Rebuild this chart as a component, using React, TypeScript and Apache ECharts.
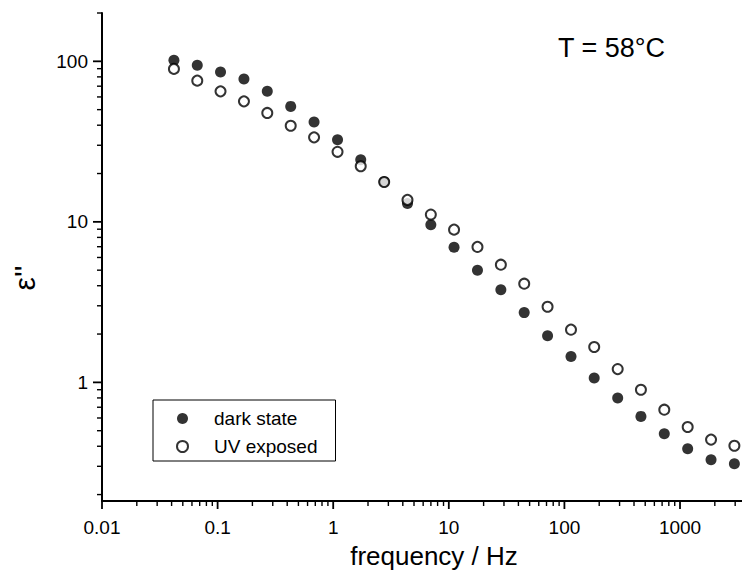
import React, { useEffect, useRef } from "react";
import * as echarts from "echarts";

// frequency (Hz) of each measured point
const frequency = [0.0419, 0.0667, 0.106, 0.169, 0.269, 0.429, 0.683, 1.09, 1.73, 2.76, 4.39, 6.99, 11.1, 17.7, 28.2, 44.9, 71.5, 114, 181, 289, 459, 731, 1165, 1855, 2953];
// epsilon'' values
const darkState = [101.4, 94.4, 85.9, 77.7, 65.0, 52.4, 41.9, 32.5, 24.4, 17.8, 13.0, 9.6, 6.94, 4.99, 3.78, 2.72, 1.95, 1.45, 1.065, 0.8, 0.614, 0.479, 0.386, 0.33, 0.311];
const uvExposed = [89.7, 75.8, 65.0, 56.3, 47.7, 39.7, 33.6, 27.3, 22.2, 17.7, 13.7, 11.1, 8.94, 6.98, 5.41, 4.12, 2.96, 2.13, 1.66, 1.21, 0.9, 0.676, 0.527, 0.44, 0.403];

const xTicks = [0.01, 0.1, 1, 10, 100, 1000];
const xTickLabels = ["0.01", "0.1", "1", "10", "100", "1000"];
const yTicks = [1, 10, 100];
const yTickLabels = ["1", "10", "100"];

const X_MIN = 0.01;
const X_MAX = 3437;
const Y_MIN = 0.1824;
const Y_MAX = 200;

function minorTicks(lo: number, hi: number, fromExp: number, toExp: number) {
  const out: number[] = [];
  for (let e = fromExp; e <= toExp; e++) {
    for (let k = 2; k <= 9; k++) {
      const v = parseFloat((k * Math.pow(10, e)).toPrecision(6));
      if (v >= lo && v <= hi * 1.0001) out.push(v);
    }
  }
  return out;
}

const FONT = "'Liberation Sans', Arial, Helvetica, sans-serif";

function tickMarks(name: string, values: number[], dir: "x" | "y", len: number, width: number) {
  return {
    name,
    type: "scatter",
    silent: true,
    clip: false,
    z: 6,
    symbol: "rect",
    symbolSize: dir === "x" ? [width, len] : [len, width],
    symbolOffset: dir === "x" ? [0, len / 2] : [-len / 2, 0],
    itemStyle: { color: "#000", opacity: 1 },
    emphasis: { disabled: true },
    tooltip: { show: false },
    data: values.map((v) => (dir === "x" ? [v, Y_MIN] : [X_MIN, v])),
  };
}

export default function App() {
  const ref = useRef<HTMLDivElement>(null);
  useEffect(() => {
    if (!ref.current) return;
    const chart = echarts.init(ref.current, undefined, { renderer: "svg" });
    const xMinor = minorTicks(X_MIN, X_MAX, -2, 3);
    const yMinor = minorTicks(Y_MIN, Y_MAX, -1, 2);
    const fmtX = (v: number) => {
      const i = xTicks.findIndex((t) => Math.abs(Math.log10(t) - Math.log10(v)) < 1e-6);
      return i >= 0 ? xTickLabels[i] : "";
    };
    const fmtY = (v: number) => {
      const i = yTicks.findIndex((t) => Math.abs(Math.log10(t) - Math.log10(v)) < 1e-6);
      return i >= 0 ? yTickLabels[i] : "";
    };
    const axisLineStyle = { color: "#000", width: 2 };
    chart.setOption({
      animation: false,
      backgroundColor: "#fff",
      textStyle: { fontFamily: FONT },
      grid: { left: 102, right: 0, top: 13, bottom: 72, containLabel: false },
      xAxis: {
        type: "log",
        min: X_MIN,
        max: X_MAX,
        position: "bottom",
        axisLine: { show: true, onZero: false, lineStyle: axisLineStyle },
        axisTick: { show: false },
        axisLabel: {
          show: true,
          customValues: xTicks,
          formatter: fmtX,
          color: "#000",
          fontSize: 19,
          fontFamily: FONT,
          margin: 17,
        },
        splitLine: { show: false },
        minorTick: { show: false },
      },
      yAxis: {
        type: "log",
        min: Y_MIN,
        max: Y_MAX,
        position: "left",
        axisLine: { show: true, onZero: false, lineStyle: axisLineStyle },
        axisTick: { show: false },
        axisLabel: {
          show: true,
          customValues: yTicks,
          formatter: fmtY,
          color: "#000",
          fontSize: 19,
          fontFamily: FONT,
          margin: 14,
        },
        splitLine: { show: false },
        minorTick: { show: false },
      },
      legend: {
        show: true,
        orient: "vertical",
        left: 153,
        top: 400,
        itemWidth: 11,
        itemHeight: 11,
        itemGap: 9,
        padding: [9, 18, 5, 23],
        borderColor: "#000",
        borderWidth: 1,
        backgroundColor: "#fff",
        textStyle: { color: "#000", fontSize: 19, fontFamily: FONT, lineHeight: 19, padding: [0, 0, 0, 21] },
        data: ["dark state", "UV exposed"],
      },
      series: [
        tickMarks("x major ticks", xTicks, "x", 8, 1.8),
        tickMarks("x minor ticks", xMinor, "x", 5, 1.4),
        tickMarks("y major ticks", yTicks, "y", 9, 1.8),
        tickMarks("y minor ticks", yMinor, "y", 5, 1.4),
        {
          name: "dark state",
          type: "scatter",
          symbol: "circle",
          symbolSize: 11,
          itemStyle: { color: "#000", borderColor: "#000", borderWidth: 0 },
          data: frequency.map((f, i) => [f, darkState[i]]),
        },
        {
          name: "UV exposed",
          type: "scatter",
          symbol: "circle",
          symbolSize: 10,
          itemStyle: { color: "#fff", borderColor: "#000", borderWidth: 2 },
          data: frequency.map((f, i) => [f, uvExposed[i]]),
        },
      ],
      graphic: [
        {
          type: "text",
          left: 558,
          top: 34,
          style: { text: "T = 58°C", fontSize: 27, fontFamily: FONT, fill: "#000" },
        },
        {
          type: "text",
          x: 434,
          y: 556,
          style: {
            text: "frequency / Hz",
            fontSize: 26,
            fontFamily: FONT,
            fill: "#000",
            align: "center",
            verticalAlign: "middle",
          },
        },
        {
          type: "text",
          x: 24,
          y: 278,
          rotation: Math.PI / 2,
          style: {
            text: "ε''",
            fontSize: 30,
            fontFamily: FONT,
            fill: "#000",
            align: "center",
            verticalAlign: "middle",
          },
        },
      ],
    });
    return () => chart.dispose();
  }, []);
  return (
    <div
      ref={ref}
      style={{ position: "fixed", left: 0, top: 0, width: 742, height: 573, background: "#fff" }}
    />
  );
}
